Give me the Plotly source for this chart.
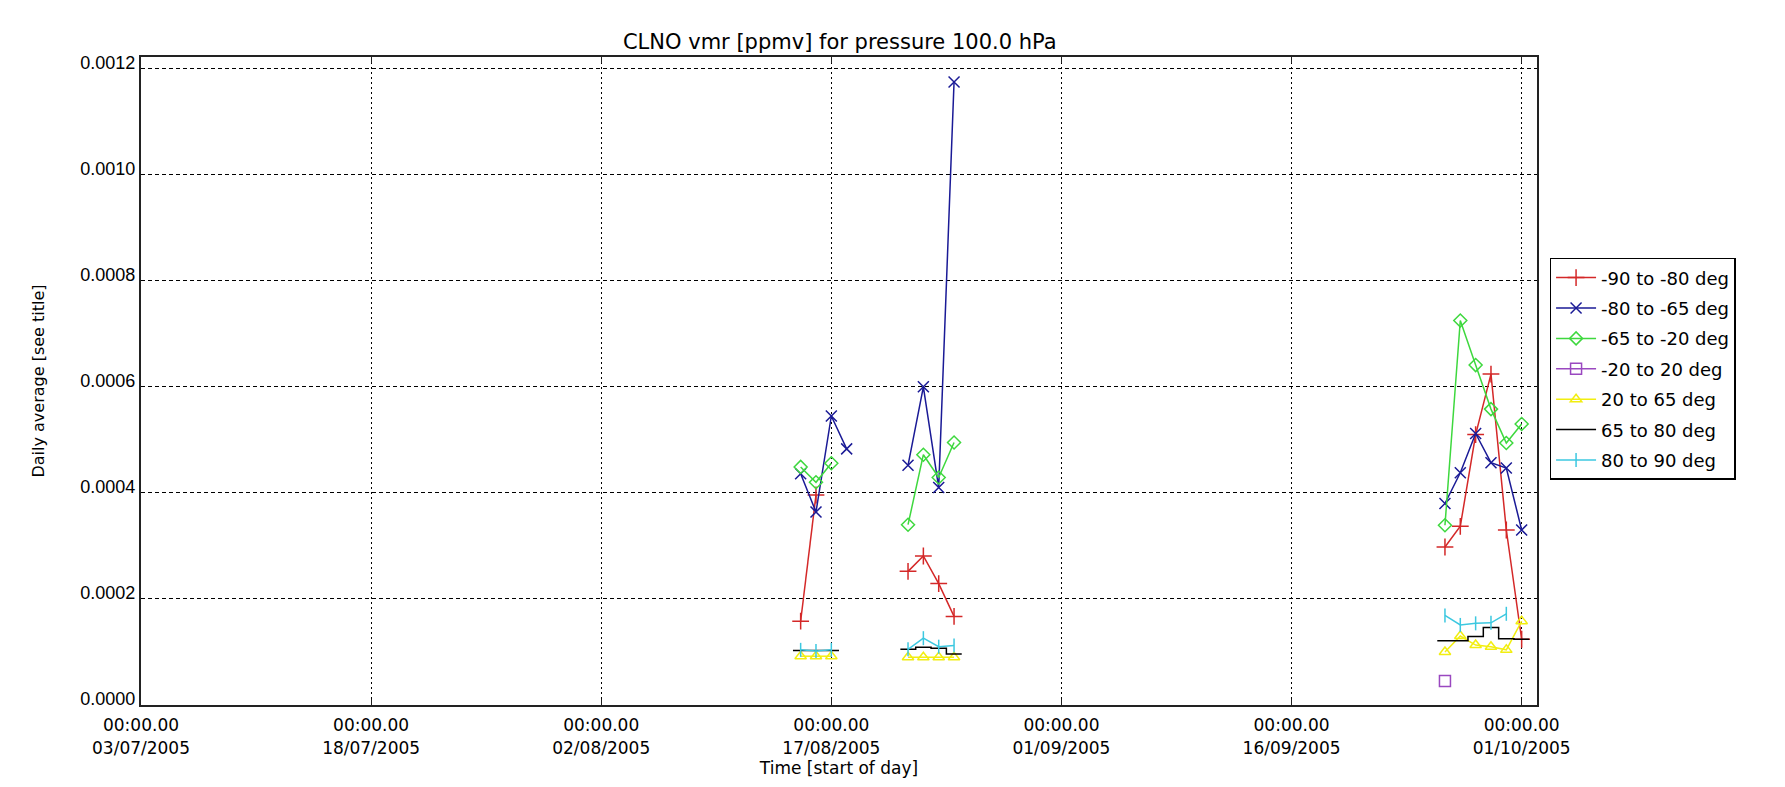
import plotly.graph_objects as go
import pandas as pd

N = None
dates = ["2005-08-15", "2005-08-16", "2005-08-17", "2005-08-18", "2005-08-19",
         "2005-08-20", "2005-08-21", "2005-08-22", "2005-08-23", "2005-08-24",
         "2005-08-25", "2005-08-26",
         "2005-09-26", "2005-09-27", "2005-09-28", "2005-09-29", "2005-09-30",
         "2005-10-01"]

lat_m90_m80 = [0.000158, 0.000396, N, N, N, N, N, 0.000252, 0.000281, 0.000229, 0.000167, N,
               0.000298, 0.000337, 0.000510, 0.000624, 0.000330, 0.000124]
lat_m80_m65 = [0.000436, 0.000364, 0.000545, 0.000483, N, N, N, 0.000452, 0.000600, 0.000410, 0.001175, N,
               0.000380, 0.000438, 0.000512, 0.000457, 0.000447, 0.000330]
lat_m65_m20 = [0.000449, 0.000420, 0.000456, N, N, N, N, 0.000340, 0.000472, 0.000429, 0.000495, N,
               0.000339, 0.000725, 0.000641, 0.000558, 0.000494, 0.000530]
lat_m20_20 = [N, N, N, N, N, N, N, N, N, N, N, N,
              0.0000453, N, N, N, N, N]
lat_20_65 = [0.000092, 0.000092, 0.000092, N, N, N, N, 0.000090, 0.000090, 0.000090, 0.000090, N,
             0.000100, 0.000130, 0.000113, 0.000110, 0.000104, 0.000158]
lat_65_80 = [0.000103, 0.000103, 0.000103, N, N, N, N, 0.000105, 0.000109, 0.000107, 0.000096, N,
             0.000121, 0.000121, 0.000129, 0.000146, 0.000125, 0.000124]
lat_80_90 = [0.000104, 0.000102, 0.000104, N, N, N, N, 0.000105, 0.000126, 0.000110, 0.000112, N,
             0.000169, 0.000151, 0.000154, 0.000155, 0.000172, N]

series_names = ["-90 to -80 deg", "-80 to -65 deg", "-65 to -20 deg", "-20 to 20 deg",
                "20 to 65 deg", "65 to 80 deg", "80 to 90 deg"]

tick_dates = ["2005-07-03", "2005-07-18", "2005-08-02", "2005-08-17",
              "2005-09-01", "2005-09-16", "2005-10-01"]
tick_text = ["00:00.00<br>03/07/2005", "00:00.00<br>18/07/2005", "00:00.00<br>02/08/2005",
             "00:00.00<br>17/08/2005", "00:00.00<br>01/09/2005", "00:00.00<br>16/09/2005",
             "00:00.00<br>01/10/2005"]

FONT = "DejaVu Sans"
fig = go.Figure()

styles = [
    dict(color="#d42828", symbol="cross-thin-open", size=12),
    dict(color="#1a1a96", symbol="x-thin-open", size=11),
    dict(color="#3ed83e", symbol="diamond-open", size=10),
    dict(color="#9a48c0", symbol="square-open", size=11),
    dict(color="#f2ee10", symbol="triangle-up-open", size=10),
    None,
    dict(color="#3cc8e0", symbol="line-ns-open", size=10),
]
values = [lat_m90_m80, lat_m80_m65, lat_m65_m20, lat_m20_20, lat_20_65, lat_65_80, lat_80_90]

for i, (name, vals, st) in enumerate(zip(series_names, values, styles)):
    if st is None:
        # histogram-style line (steps centred on each day, extended half a day at ends)
        xs, ys = [], []
        run_x, run_y = [], []
        ts = pd.to_datetime(dates)
        for t, v in list(zip(ts, vals)) + [(None, None)]:
            if v is None:
                if run_x:
                    half = pd.Timedelta(hours=12)
                    xs += [run_x[0] - half] + run_x + [run_x[-1] + half, None]
                    ys += [run_y[0]] + run_y + [run_y[-1], None]
                    run_x, run_y = [], []
            else:
                run_x.append(t)
                run_y.append(v)
        fig.add_trace(go.Scatter(x=xs, y=ys, mode="lines", name=name, legendgroup=name,
                                 line=dict(color="black", width=1.5, shape="hvh"),
                                 connectgaps=False))
    else:
        fig.add_trace(go.Scatter(x=dates, y=vals, mode="lines+markers", name=name,
                                 legendgroup=name, connectgaps=False,
                                 line=dict(color=st["color"], width=1.5),
                                 marker=dict(symbol=st["symbol"], size=st["size"],
                                             color=st["color"],
                                             line=dict(color=st["color"], width=1.5))))

fig.update_layout(
    width=1785, height=787,
    paper_bgcolor="white", plot_bgcolor="white",
    margin=dict(l=133, r=256, t=49, b=90),
    font=dict(family=FONT, size=17, color="black"),
    title=dict(text="CLNO vmr [ppmv] for pressure 100.0 hPa", x=0.466, xanchor="center",
               y=0.957, yanchor="middle", font=dict(family=FONT, size=21, color="black")),
    showlegend=True,
    legend=dict(x=1.009, xanchor="left", y=0.69, yanchor="top",
                bgcolor="white", bordercolor="black", borderwidth=1.5,
                font=dict(family=FONT, size=18, color="black"),
                tracegroupgap=4, itemwidth=40),
)

fig.update_xaxes(
    type="date", range=["2005-07-03", "2005-10-02"],
    tickmode="array", tickvals=tick_dates, ticktext=tick_text,
    showgrid=True, gridcolor="black", gridwidth=1, griddash="2px,3px",
    showline=True, linecolor="#222", linewidth=2, mirror="ticks",
    ticks="inside", ticklen=6, tickcolor="#222",
    tickfont=dict(family=FONT, size=17), ticklabelstandoff=4,
    title=dict(text="Time [start of day]", font=dict(family=FONT, size=17), standoff=6),
    zeroline=False,
)
fig.update_yaxes(
    range=[0, 0.001222],
    tickmode="array", tickvals=[0, 0.0002, 0.0004, 0.0006, 0.0008, 0.0010, 0.0012],
    ticktext=["0.0000", "0.0002", "0.0004", "0.0006", "0.0008", "0.0010", "0.0012"],
    showgrid=True, gridcolor="black", gridwidth=1, griddash="4px,3px",
    showline=True, linecolor="#222", linewidth=2, mirror=True,
    ticks="", tickfont=dict(family="Liberation Sans", size=18), ticklabelshift=-6,
    title=dict(text="Daily average [see title]", font=dict(family=FONT, size=16), standoff=32),
    zeroline=False,
)

fig.write_html("out.html")
